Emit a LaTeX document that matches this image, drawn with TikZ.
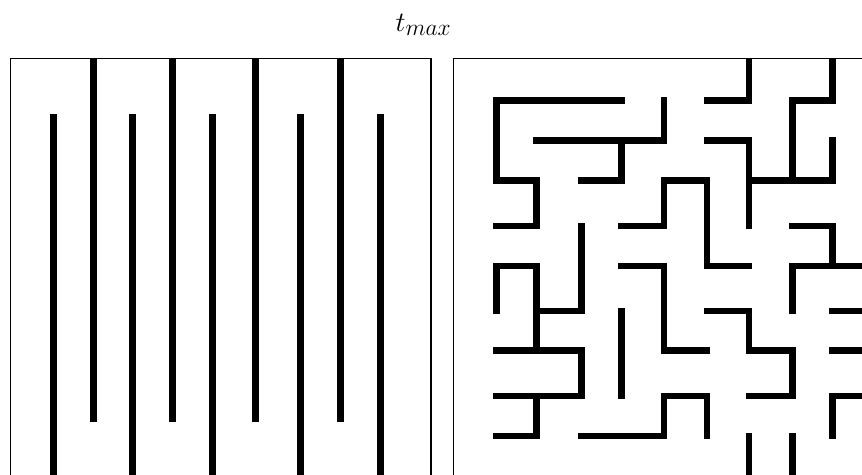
\documentclass[tikz,border=0pt]{standalone}
\usepackage{tikz}
\definecolor{MazeInk}{HTML}{000000}
\definecolor{MazeBG}{HTML}{FFFFFF}
\tikzset{
  mazeframe/.style = {draw=MazeInk, line width=1.1pt},
  mazewall/.style  = {draw=MazeInk, line width=6.8pt, line cap=rect, line join=miter},
  mazetitle/.style = {font=\fontsize{24.88}{30}\selectfont, text=MazeInk, inner sep=0pt,
                      scale=1.13, transform shape},
}

\begin{document}
\begin{tikzpicture}[x=1pt, y=-1pt]
  \useasboundingbox (0,0) rectangle (862,474);
  \fill[MazeBG] (0,0) rectangle (862,474);
  \clip (0,0) rectangle (862,474);
  \node[mazetitle, anchor=base] (title) at (423.5,31.7) {$t_{max}$};

  % left maze: one long corridor
  \draw[mazeframe] (10.7,58.3) rectangle (431,490);
  \foreach \x in {93.3,172.7,255.3,340.7} \draw[mazewall] (\x,61.7) -- (\x,418.3);
  \foreach \x in {53.3,132.7,212.3,300.7,380.3} \draw[mazewall] (\x,117.7) -- (\x,490);

  % right maze: grid lines
  \draw[mazeframe] (453.5,58.3) rectangle (880,490);
  \foreach \x [count=\i] in {496.7,536.3,581.7,621.7,664,707,749,792.3,832.3,880}
    \coordinate (c\i) at (\x,0);
  \foreach \y [count=\j from 0] in {61.7,100.7,140.7,180.7,226,266,311,350.5,396,436,490}
    \coordinate (r\j) at (0,\y);

  \draw[mazewall] (c4|-r1) -- (c1|-r1) -- (c1|-r3) -- (c2|-r3) -- (c2|-r4) -- (c1|-r4);
  \draw[mazewall] (c5|-r1) -- (c5|-r2) -- (c2|-r2);
  \draw[mazewall] (c4|-r2) -- (c4|-r3) -- (c3|-r3);
  \draw[mazewall] (c3|-r4) -- (c3|-r6) -- (c2|-r6);
  \draw[mazewall] (c1|-r6) -- (c1|-r5) -- (c2|-r5) -- (c2|-r7);
  \draw[mazewall] (c1|-r7) -- (c3|-r7) -- (c3|-r8) -- (c1|-r8);
  \draw[mazewall] (c2|-r8) -- (c2|-r9) -- (c1|-r9);
  \draw[mazewall] (c4|-r4) -- (c5|-r4) -- (c5|-r3) -- (c6|-r3) -- (c6|-r5) -- (c7|-r5);
  \draw[mazewall] (c6|-r1) -- (c7|-r1) -- (c7|-r0);
  \draw[mazewall] (c6|-r2) -- (c7|-r2) -- (c7|-r4);
  \draw[mazewall] (c9|-r0) -- (c9|-r1) -- (c8|-r1) -- (c8|-r3);
  \draw[mazewall] (c7|-r3) -- (c9|-r3) -- (c9|-r2);
  \draw[mazewall] (c4|-r5) -- (c5|-r5) -- (c5|-r7) -- (c6|-r7);
  \draw[mazewall] (c8|-r4) -- (c9|-r4) -- (c9|-r5);
  \draw[mazewall] (c10|-r5) -- (c8|-r5) -- (c8|-r6);
  \draw[mazewall] (c4|-r6) -- (c4|-r8);
  \draw[mazewall] (c3|-r9) -- (c5|-r9) -- (c5|-r8) -- (c6|-r8) -- (c6|-r9);
  \draw[mazewall] (c6|-r6) -- (c7|-r6) -- (c7|-r7) -- (c8|-r7) -- (c8|-r8) -- (c7|-r8);
  \draw[mazewall] (c10|-r6) -- (c9|-r6) (c10|-r7) -- (c9|-r7);
  \draw[mazewall] (c10|-r8) -- (c9|-r8) -- (c9|-r9);
  \draw[mazewall] (c7|-r9) -- (c7|-r10) (c8|-r9) -- (c8|-r10);
\end{tikzpicture}
\end{document}
